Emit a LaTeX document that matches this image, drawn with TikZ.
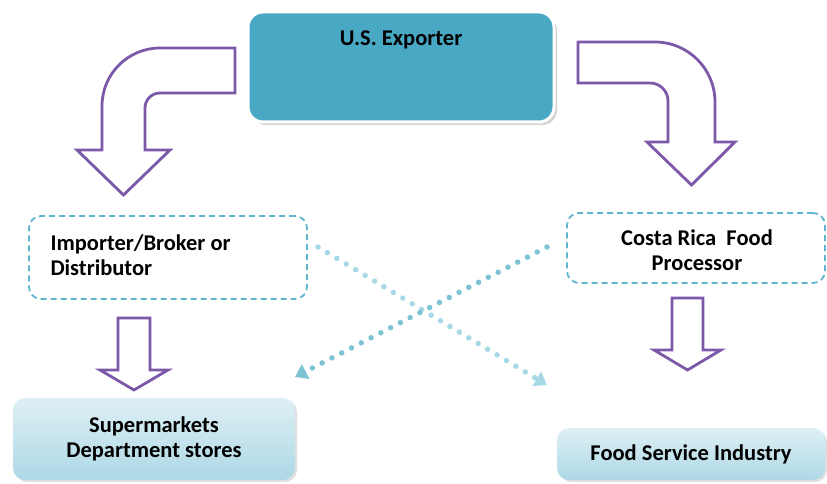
\documentclass[tikz,border=0pt]{standalone}
\usepackage{fontspec}
\setmainfont{Carlito}
\usetikzlibrary{arrows.meta,shadows}
\tikzset{>=stealth}
\definecolor{purp}{HTML}{7B58A8}
\definecolor{teal1}{HTML}{49A9C5}
\definecolor{teal2}{HTML}{5DB6CD}
\definecolor{dotA}{HTML}{A7D8E5}
\definecolor{dotB}{HTML}{7CC3D6}

\begin{document}
\begin{tikzpicture}[x=1pt, y=1pt,
  font=\fontsize{22.5}{25}\selectfont\bfseries,
  blockarr/.style={draw=purp, line width=2.8pt, fill=white, line join=miter},
  dashbox/.style={draw=teal2, line width=1.8pt, dash pattern=on 6pt off 4pt, rounded corners=12pt},
  shadebox/.style={rounded corners=12pt, top color=teal1!18, bottom color=teal1!45, drop shadow={opacity=0.25, shadow xshift=2pt, shadow yshift=-2pt}},
  dotline/.style={line width=5.5pt, dash pattern=on 0pt off 11pt, line cap=round, -{Triangle[width=16pt,length=12pt]}}]
\useasboundingbox (0,0) rectangle (827,483);
\node[draw=white, line width=3pt, fill=teal1, rounded corners=15pt, minimum width=306pt, minimum height=110pt,
  drop shadow={opacity=0.35, shadow xshift=3pt, shadow yshift=-3pt}] (exp) at (401,416) {};
\node at (401,443) (expT) {U.S. Exporter};
\node[dashbox, minimum width=278pt, minimum height=83pt] (imp) at (168,225.5) {};
\node[anchor=west, align=left] (impT) at (47,227.5) {Importer/Broker or\\Distributor};
\node[dashbox, minimum width=258pt, minimum height=70pt] (cr) at (696,235) {};
\node[align=center] (crT) at (697,233) {Costa Rica\ \ Food\\Processor};
\node[shadebox, minimum width=282pt, minimum height=82pt, align=center] (sup) at (154,44) {Supermarkets\\Department stores};
\node[shadebox, minimum width=268pt, minimum height=52pt] (fsi) at (691,29) {Food Service Industry};
\draw[blockarr] (235,435) -- (160,435) arc[start angle=90, end angle=180, radius=58] -- (102,333) -- (77,333) -- (123.5,288)
  -- (170,333) -- (145,333) -- (145,375) arc[start angle=180, end angle=90, radius=15] -- (235,390) -- cycle;
\draw[blockarr] (578,441) -- (655,441) arc[start angle=90, end angle=0, radius=60] -- (715,341) -- (735,341) -- (691.5,298)
  -- (647,341) -- (668,341) -- (668,382) arc[start angle=0, end angle=90, radius=18] -- (578,400) -- cycle;
\foreach \l/\r/\t/\h/\p in {118/150/165/113/93, 672/703/185/133/113}
\draw[blockarr] (\l,\t) -- (\l,\h) -- ({\l-18},\h) -- ({(\l+\r)/2},\p) -- ({\r+18},\h) -- (\r,\h) -- (\r,\t) -- cycle;
\coordinate (A) at (318,236);
\coordinate (B) at (547,98);
\coordinate (C) at (547,236);
\coordinate (D) at (295,106);
\draw[dotline, dotA] (A) -- (B);
\draw[dotline, dotB] (C) -- (D);
\end{tikzpicture}
\end{document}
